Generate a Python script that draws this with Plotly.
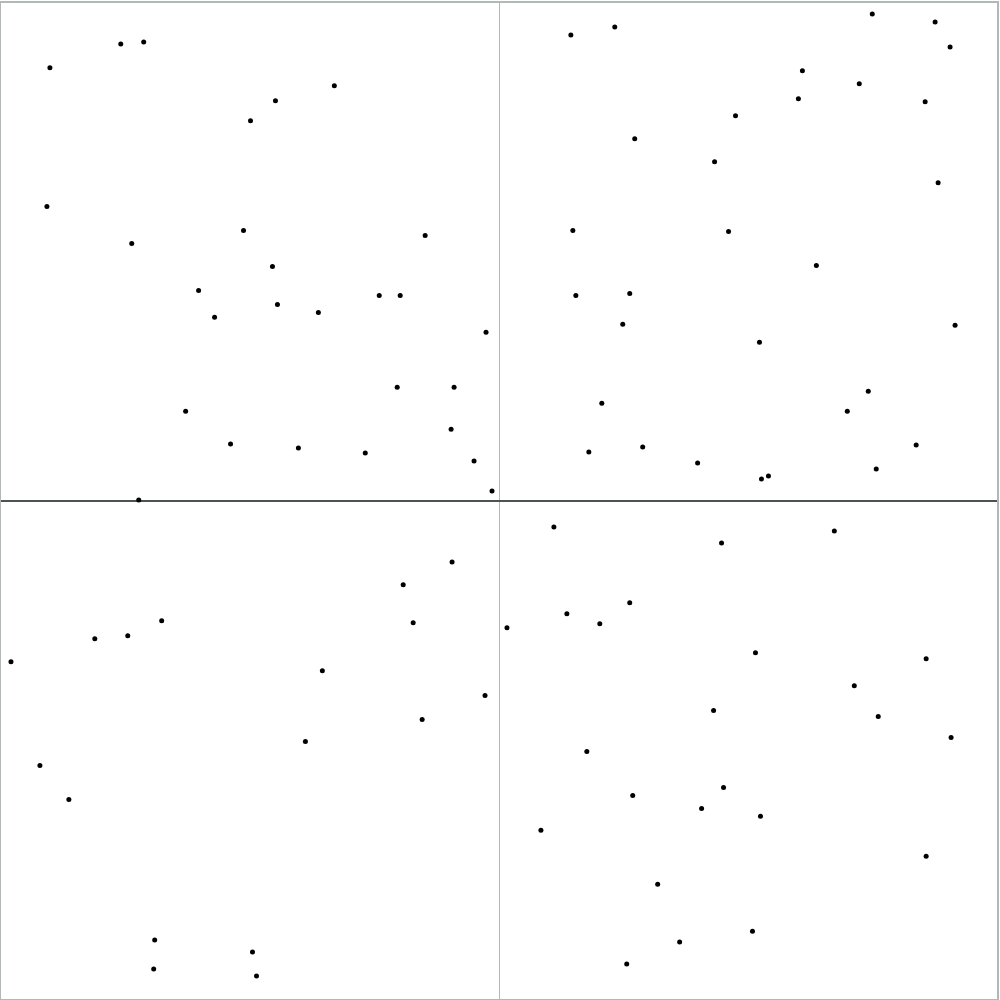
import plotly.graph_objects as go

# point positions (pixel-like units, origin at centre, y up)
px = [50,121,144,276,335,251,47,132,244,273,426,199,215,278,319,380,401,487,398,455,186,452,231,299,366,475,493,139,
      572,616,874,937,952,804,861,800,927,737,636,716,940,574,730,818,577,631,624,957,761,870,603,849,918,590,644,699,878,770,763,
      453,404,162,414,128,95,11,323,486,423,306,40,69,155,253,154,257,
      555,836,723,631,568,601,508,757,928,856,715,880,588,953,725,634,703,762,542,928,659,754,681,628]
py = [66,42,40,99,84,119,205,242,229,265,234,289,316,303,311,294,294,331,386,386,410,428,443,447,452,460,490,499,
      33,25,12,20,45,69,82,97,100,114,137,160,181,229,230,264,294,292,323,324,341,390,402,410,444,451,446,462,468,475,478,
      561,584,620,622,635,638,661,670,695,719,741,765,799,940,952,969,976,
      526,530,542,602,613,623,627,652,658,685,710,716,751,737,787,795,808,816,830,856,884,931,942,964]

xs = [v - 500 for v in px]
ys = [500 - v for v in py]

fig = go.Figure(go.Scatter(x=xs, y=ys, mode="markers",
                           marker=dict(color="black", size=5), showlegend=False))
fig.update_layout(width=1000, height=1000, margin=dict(l=1, r=1, t=1, b=1),
                  plot_bgcolor="white", paper_bgcolor="white")
fig.update_xaxes(range=[-499, 499], showgrid=False, showticklabels=False, ticks="",
                 zeroline=True, zerolinecolor="#b0b8b8", zerolinewidth=1,
                 showline=True, linecolor="#b0b8b8", linewidth=2, mirror=True)
fig.update_yaxes(range=[-499, 499], showgrid=False, showticklabels=False, ticks="",
                 zeroline=True, zerolinecolor="#4a5450", zerolinewidth=2,
                 showline=True, linecolor="#b0b8b8", linewidth=2, mirror=True)
fig.write_html("out.html")
